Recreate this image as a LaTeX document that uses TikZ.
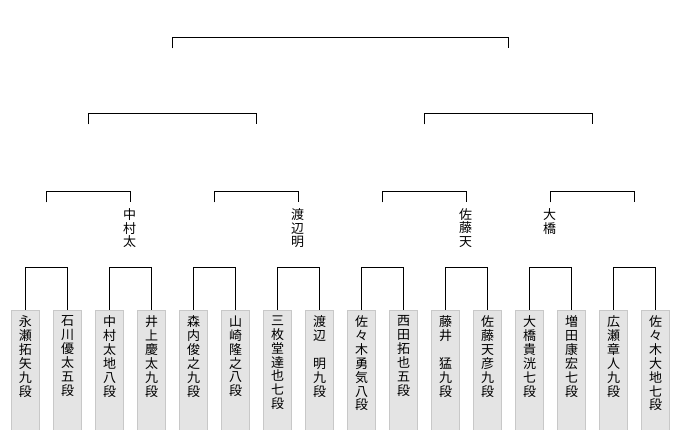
\documentclass[tikz,border=0pt]{standalone}
\usepackage{fontspec}
\newfontfamily\cjk{Noto Sans CJK JP}
\definecolor{boxfill}{HTML}{E4E4E4}
\definecolor{boxline}{HTML}{C8C8C8}
\begin{document}
\begin{tikzpicture}[x=1pt,y=-1pt,
  namebox/.style={draw=boxline,fill=boxfill,line width=0.8pt,minimum width=28pt,minimum height=122pt,anchor=north,inner sep=0pt},
  nametext/.style={anchor=north,align=center,inner sep=0pt,font=\cjk\fontsize{13}{13.9}\selectfont},
  winner/.style={anchor=north,align=center,inner sep=0pt,font=\cjk\fontsize{13}{13.9}\selectfont},
  bracket/.style={draw=black,line width=1pt}]
\useasboundingbox (0,0) rectangle (680,430);
\fill[white] (0,0) rectangle (680,430);
% player boxes
\foreach \i/\nm in {0/{永\\瀬\\拓\\矢\\九\\段},1/{石\\川\\優\\太\\五\\段},2/{中\\村\\太\\地\\八\\段},3/{井\\上\\慶\\太\\九\\段},
  4/{森\\内\\俊\\之\\九\\段},5/{山\\崎\\隆\\之\\八\\段},6/{三\\枚\\堂\\達\\也\\七\\段},7/{渡\\辺\\\mbox{}\\明\\九\\段},
  8/{佐\\々\\木\\勇\\気\\八\\段},9/{西\\田\\拓\\也\\五\\段},10/{藤\\井\\\mbox{}\\猛\\九\\段},11/{佐\\藤\\天\\彦\\九\\段},
  12/{大\\橋\\貴\\洸\\七\\段},13/{増\\田\\康\\宏\\七\\段},14/{広\\瀬\\章\\人\\九\\段},15/{佐\\々\\木\\大\\地\\七\\段}}{
  \node[namebox] (p\i) at ({25.5+42*\i},310) {};
  \node[nametext] (t\i) at ({25.5+42*\i},315.5) {\nm};
}
% round 1 brackets
\foreach \a/\b in {0/1,2/3,4/5,6/7,8/9,10/11,12/13,14/15}{
  \draw[bracket] (p\a.north) -- ++(0,-42) -| (p\b.north);
}
% round 2 brackets
\coordinate (r2a) at (46.5,191.5);  \coordinate (r2b) at (130.5,191.5);
\coordinate (r2c) at (214.5,191.5); \coordinate (r2d) at (298.5,191.5);
\coordinate (r2e) at (382.5,191.5); \coordinate (r2f) at (466.5,191.5);
\coordinate (r2g) at (550.5,191.5); \coordinate (r2h) at (634.5,191.5);
\draw[bracket] ([yshift=-11pt]r2a) -- (r2a) -- (r2b) -- ([yshift=-11pt]r2b);
\draw[bracket] ([yshift=-11pt]r2c) -- (r2c) -- (r2d) -- ([yshift=-11pt]r2d);
\draw[bracket] ([yshift=-11pt]r2e) -- (r2e) -- (r2f) -- ([yshift=-11pt]r2f);
\draw[bracket] ([yshift=-11pt]r2g) -- (r2g) -- (r2h) -- ([yshift=-11pt]r2h);
% round 2 winners
\node[winner] (w1) at (129.5,208) {中\\村\\太};
\node[winner] (w2) at (297.5,208) {渡\\辺\\明};
\node[winner] (w3) at (465.5,208) {佐\\藤\\天};
\node[winner] (w4) at (549.5,208) {大\\橋};
% round 3 brackets
\coordinate (r3a) at (88.5,113.5);  \coordinate (r3b) at (256.5,113.5);
\coordinate (r3c) at (424.5,113.5); \coordinate (r3d) at (592.5,113.5);
\draw[bracket] ([yshift=-11pt]r3a) -- (r3a) -- (r3b) -- ([yshift=-11pt]r3b);
\draw[bracket] ([yshift=-11pt]r3c) -- (r3c) -- (r3d) -- ([yshift=-11pt]r3d);
% final
\coordinate (fa) at (172.5,37.5); \coordinate (fb) at (508.5,37.5);
\draw[bracket] ([yshift=-11pt]fa) -- (fa) -- (fb) -- ([yshift=-11pt]fb);
\end{tikzpicture}
\end{document}
